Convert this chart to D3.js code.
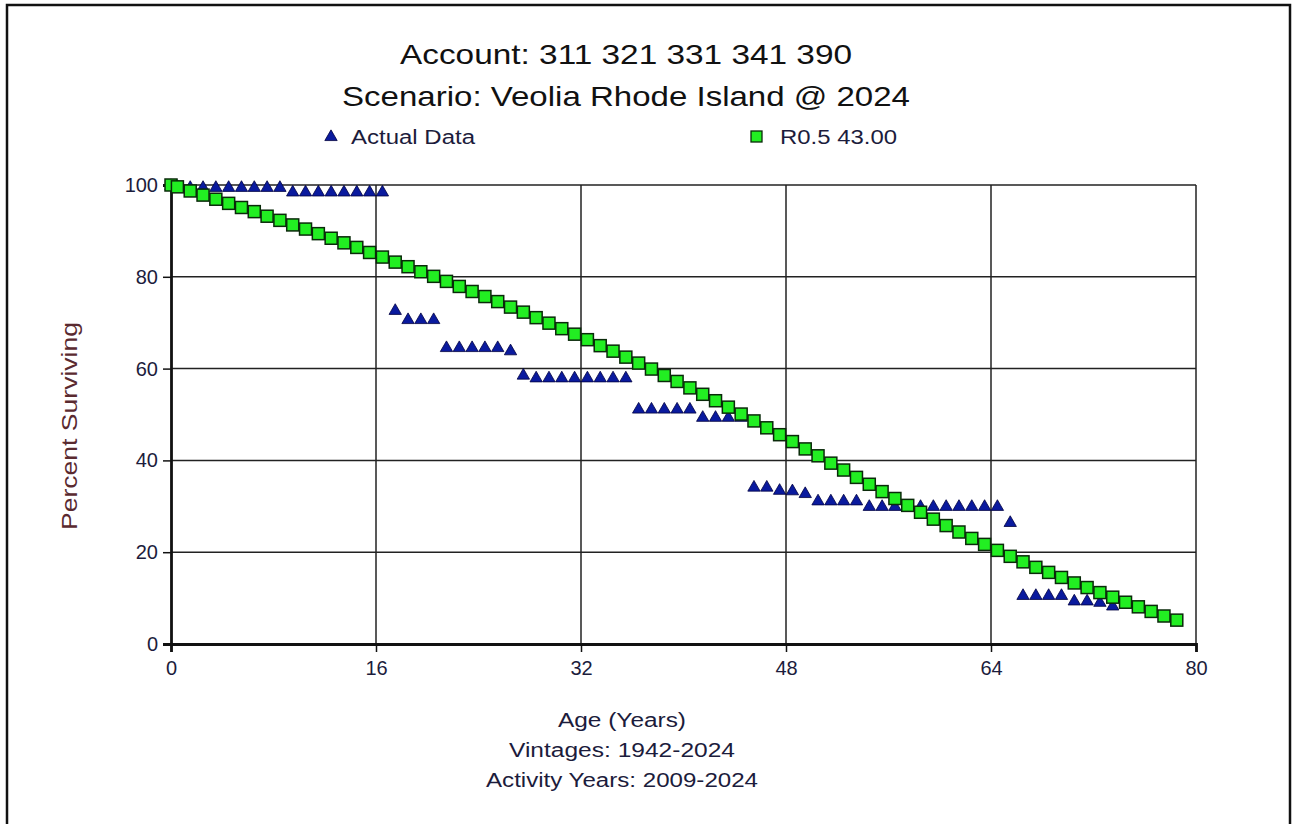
<!DOCTYPE html>
<html>
<head>
<meta charset="utf-8">
<script src="https://cdn.jsdelivr.net/npm/d3@7"></script>
<style>
  html, body { margin: 0; padding: 0; background: #fff; }
  svg { display: block; font-family: "Liberation Sans", Arial, sans-serif; }
</style>
</head>
<body>
<svg id="chart" width="1297" height="824"></svg>
<script>
// Titles and axis text
const titleLines = ["Account: 311 321 331 341 390", "Scenario: Veolia Rhode Island @ 2024"];
const xTitleLines = ["Age (Years)", "Vintages: 1942-2024", "Activity Years: 2009-2024"];
const yTitle = "Percent Surviving";
const seriesNames = ["Actual Data", "R0.5 43.00"];

// Tick labels
const xTicks = [0, 16, 32, 48, 64, 80];
const yTicks = [0, 20, 40, 60, 80, 100];

// Observed survivor data (age in years, percent surviving)
const actualAges = [0, 0.5, 1.5, 2.5, 3.5, 4.5, 5.5, 6.5, 7.5, 8.5, 9.5, 10.5, 11.5, 12.5, 13.5, 14.5,
  15.5, 16.5, 17.5, 18.5, 19.5, 20.5, 21.5, 22.5, 23.5, 24.5, 25.5, 26.5, 27.5, 28.5, 29.5, 30.5,
  31.5, 32.5, 33.5, 34.5, 35.5, 36.5, 37.5, 38.5, 39.5, 40.5, 41.5, 42.5, 43.5, 44.5, 45.5, 46.5,
  47.5, 48.5, 49.5, 50.5, 51.5, 52.5, 53.5, 54.5, 55.5, 56.5, 57.5, 58.5, 59.5, 60.5, 61.5, 62.5,
  63.5, 64.5, 65.5, 66.5, 67.5, 68.5, 69.5, 70.5, 71.5, 72.5, 73.5];
const actualValues = [100, 99.8, 99.6, 99.6, 99.6, 99.6, 99.6, 99.6, 99.6, 99.6, 98.6, 98.6, 98.6, 98.6,
  98.6, 98.6, 98.6, 98.6, 72.8, 70.8, 70.8, 70.8, 64.7, 64.7, 64.7, 64.7, 64.7, 64.0, 58.7, 58.1,
  58.1, 58.1, 58.1, 58.1, 58.1, 58.1, 58.1, 51.3, 51.3, 51.3, 51.3, 51.3, 49.5, 49.5, 49.5, 49.5,
  34.3, 34.3, 33.6, 33.5, 32.9, 31.3, 31.3, 31.3, 31.3, 30.1, 30.1, 30.1, 30.1, 30.1, 30.1, 30.1,
  30.1, 30.1, 30.1, 30.1, 26.6, 10.7, 10.7, 10.7, 10.7, 9.5, 9.5, 9.2, 8.4];

// Fitted Iowa R0.5 curve, 43-year average life
const curveAges = [0, 0.5, 1.5, 2.5, 3.5, 4.5, 5.5, 6.5, 7.5, 8.5, 9.5, 10.5, 11.5, 12.5, 13.5, 14.5,
  15.5, 16.5, 17.5, 18.5, 19.5, 20.5, 21.5, 22.5, 23.5, 24.5, 25.5, 26.5, 27.5, 28.5, 29.5, 30.5,
  31.5, 32.5, 33.5, 34.5, 35.5, 36.5, 37.5, 38.5, 39.5, 40.5, 41.5, 42.5, 43.5, 44.5, 45.5, 46.5,
  47.5, 48.5, 49.5, 50.5, 51.5, 52.5, 53.5, 54.5, 55.5, 56.5, 57.5, 58.5, 59.5, 60.5, 61.5, 62.5,
  63.5, 64.5, 65.5, 66.5, 67.5, 68.5, 69.5, 70.5, 71.5, 72.5, 73.5, 74.5, 75.5, 76.5, 77.5, 78.5];
const curveValues = [100, 99.6, 98.7, 97.8, 96.9, 96.0, 95.1, 94.2, 93.2, 92.3, 91.3, 90.4, 89.4, 88.4,
  87.4, 86.4, 85.3, 84.3, 83.2, 82.2, 81.1, 80.1, 79.0, 77.9, 76.8, 75.7, 74.6, 73.4, 72.3, 71.1,
  69.9, 68.7, 67.5, 66.3, 65.0, 63.8, 62.5, 61.2, 59.9, 58.5, 57.2, 55.8, 54.4, 53.0, 51.6, 50.1,
  48.6, 47.1, 45.6, 44.1, 42.5, 41.0, 39.4, 37.9, 36.3, 34.8, 33.2, 31.7, 30.2, 28.7, 27.2, 25.8,
  24.4, 23.0, 21.7, 20.4, 19.1, 17.9, 16.7, 15.6, 14.5, 13.3, 12.3, 11.2, 10.2, 9.1, 8.1, 7.1,
  6.1, 5.2];

const svg = d3.select("#chart");
const plot = { left: 171, right: 1196, top: 185, bottom: 644 };

const x = d3.scaleLinear().domain([0, 80]).range([plot.left, plot.right]);
const y = d3.scaleLinear().domain([0, 100]).range([plot.bottom, plot.top]);

const textColor = "#1c1c3c";
const triFill = "#0a1a9e";
const sqFill = "#22ee22";

// Outer frame
svg.append("rect")
  .attr("x", 7).attr("y", 5).attr("width", 1283).attr("height", 840)
  .attr("fill", "none").attr("stroke", "#111").attr("stroke-width", 2.5);

// Text helper: optionally fitted to a fixed drawn width
function stretchText(str, cx, baseline, size, width, anchor, color) {
  const t = svg.append("text")
    .attr("x", cx).attr("y", baseline)
    .attr("font-size", size)
    .attr("fill", color)
    .attr("text-anchor", anchor)
    .text(str);
  if (width) t.attr("textLength", width).attr("lengthAdjust", "spacingAndGlyphs");
  return t;
}

// Titles
stretchText(titleLines[0], 626, 64, 28, 452, "middle", "#111");
stretchText(titleLines[1], 626, 106, 28, 568, "middle", "#111");

// Legend
const triPath = d3.symbol().type(d3.symbolTriangle).size(66);
svg.append("path").attr("d", triPath())
  .attr("transform", `translate(331,137)`)
  .attr("fill", triFill).attr("stroke", "#000040").attr("stroke-width", 0.8);
stretchText(seriesNames[0], 351, 144, 20, 124, "start", textColor);
svg.append("rect").attr("x", 751).attr("y", 131).attr("width", 11).attr("height", 11)
  .attr("fill", sqFill).attr("stroke", "#0a2a0a").attr("stroke-width", 1.3);
stretchText(seriesNames[1], 780, 144, 20, 117, "start", textColor);

// Grid lines
const grid = svg.append("g").attr("stroke", "#222").attr("stroke-width", 1.5);
grid.selectAll("line.gx").data(xTicks.slice(1)).join("line")
  .attr("x1", d => x(d)).attr("x2", d => x(d))
  .attr("y1", plot.top).attr("y2", plot.bottom);
grid.selectAll("line.gy").data(yTicks.slice(1)).join("line")
  .attr("x1", plot.left).attr("x2", plot.right)
  .attr("y1", d => y(d)).attr("y2", d => y(d));

// Axes
const yAxis = svg.append("g")
  .attr("transform", `translate(${plot.left},0)`)
  .call(d3.axisLeft(y).tickValues(yTicks).tickSize(8).tickPadding(5).tickFormat(d3.format("d")));
const xAxis = svg.append("g")
  .attr("transform", `translate(0,${plot.bottom})`)
  .call(d3.axisBottom(x).tickValues(xTicks).tickSize(8).tickPadding(9).tickFormat(d3.format("d")));
[yAxis, xAxis].forEach(a => {
  a.select(".domain").attr("stroke", "#111").attr("stroke-width", 2.8);
  a.selectAll(".tick line").attr("stroke", "#111").attr("stroke-width", 1.5);
  a.selectAll(".tick text").attr("fill", textColor).attr("font-size", 20)
    .attr("font-family", "'Liberation Sans', Arial, sans-serif");
});

// Axis titles
stretchText(xTitleLines[0], 622, 727, 20, 128, "middle", textColor);
stretchText(xTitleLines[1], 622, 757, 20, 226, "middle", textColor);
stretchText(xTitleLines[2], 622, 787, 20, 272, "middle", textColor);
svg.append("text")
  .attr("transform", "translate(77,426) rotate(-90)")
  .attr("text-anchor", "middle")
  .attr("font-size", 22)
  .attr("textLength", 208).attr("lengthAdjust", "spacingAndGlyphs")
  .attr("fill", "#5a2a30")
  .text(yTitle);

// Actual data triangles
const actual = actualAges.map((a, i) => ({ age: a, v: actualValues[i] }));
svg.append("g").selectAll("path").data(actual).join("path")
  .attr("d", triPath())
  .attr("transform", d => `translate(${x(d.age)},${y(d.v) + 1})`)
  .attr("fill", triFill).attr("stroke", "#000040").attr("stroke-width", 0.8);

// Fitted curve squares
const curve = curveAges.map((a, i) => ({ age: a, v: curveValues[i] }));
svg.append("g").selectAll("rect").data(curve).join("rect")
  .attr("x", d => x(d.age) - 6).attr("y", d => y(d.v) - 6)
  .attr("width", 12).attr("height", 12)
  .attr("fill", sqFill).attr("stroke", "#0a2a0a").attr("stroke-width", 1.5);
</script>
</body>
</html>
